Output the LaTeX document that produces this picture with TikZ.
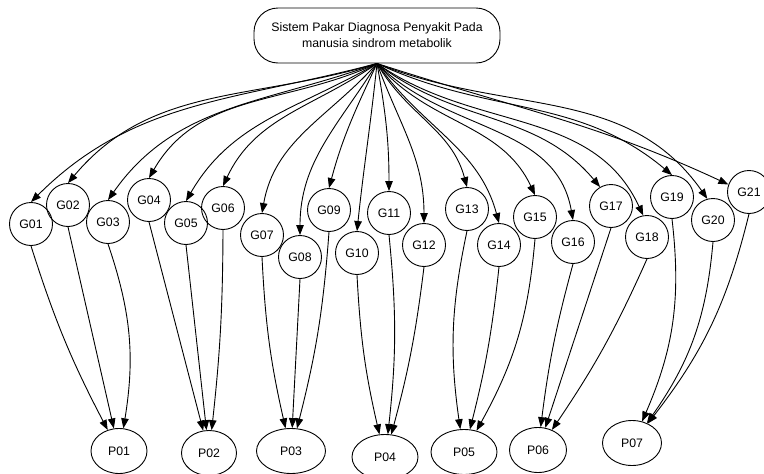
\documentclass[tikz,border=0pt]{standalone}
\usepackage{fontspec}
\setmainfont{Liberation Sans}
\usetikzlibrary{shapes.geometric,arrows.meta}
\newcommand{\gfont}{\fontsize{12.3}{16}\selectfont}
\tikzset{
  edge/.style={draw=black, line width=0.9pt, -{Triangle[length=10pt,width=7.5pt]}},
  gnode/.style={circle, draw=black, line width=0.9pt, minimum size=43pt, inner sep=0pt, font=\gfont},
  pnode/.style={ellipse, draw=black, line width=0.9pt, minimum width=57pt, minimum height=45pt, inner sep=0pt, font=\gfont},
  rootbox/.style={rectangle, rounded corners=24pt, draw=black, line width=0.9pt, minimum width=246pt, minimum height=55pt, align=center, font=\gfont},
}

\begin{document}
\begin{tikzpicture}[x=1pt,y=-1pt]
  \useasboundingbox (0,0) rectangle (764,474);
  \node[rootbox] (root) at (377,35.5) {Sistem Pakar Diagnosa Penyakit Pada\\manusia sindrom metabolik};
  % gejala
  \foreach \n/\x/\y in {01/31/224, 02/68/205, 03/108/222, 04/149/200, 05/186/223,
      06/223/208, 07/262/235, 08/300/257, 09/329/210, 10/357/253, 11/389/213,
      12/424/245, 13/467/209, 14/499/245, 15/535/217, 16/573/242, 17/611/206,
      18/647/237, 19/672/197, 20/713/220, 21/749/192}
    \node[gnode] (G\n) at (\x,\y) {G\n};
  % penyakit
  \foreach \n/\x/\y/\w in {01/119/451/56, 02/209/453/55, 03/291/451/69, 04/385/457/66,
      05/464/452/66, 06/538/450/57, 07/632/443/59}
    \node[pnode, minimum width=\w pt] (P\n) at (\x,\y) {P\n};
  % root ke gejala (\a = titik masuk pada lingkaran)
  \foreach \n/\o/\i/\a in {01/195/45/90, 02/197/50/90, 03/200/55/90, 04/205/60/90,
      05/210/60/90, 06/215/65/90, 07/228/80/90, 08/238/90/90, 09/245/75/90,
      10/264/84/90, 11/280/90/90, 12/290/90/90, 13/300/105/90, 14/305/105/90,
      15/310/115/90, 16/315/100/90, 17/322/130/120, 18/325/115/100, 19/335/140/90,
      20/338/125/105, 21/342/155/160}
    \draw[edge] (root.south) to[out=\o, in=\i] (G\n.\a);
  % gejala ke penyakit
  \foreach \n/\p/\b in {01/01/-5, 02/01/0, 03/01/14, 04/02/0, 05/02/0, 06/02/3,
      07/03/-5, 08/03/0, 09/03/5, 10/04/-5, 11/04/6, 12/04/4, 13/05/-10,
      14/05/4, 15/05/12, 16/06/-4, 17/06/0, 18/06/5, 19/07/15, 20/07/15, 21/07/12}
    \draw[edge] (G\n.south) to[bend left=\b] (P\p);
\end{tikzpicture}
\end{document}
